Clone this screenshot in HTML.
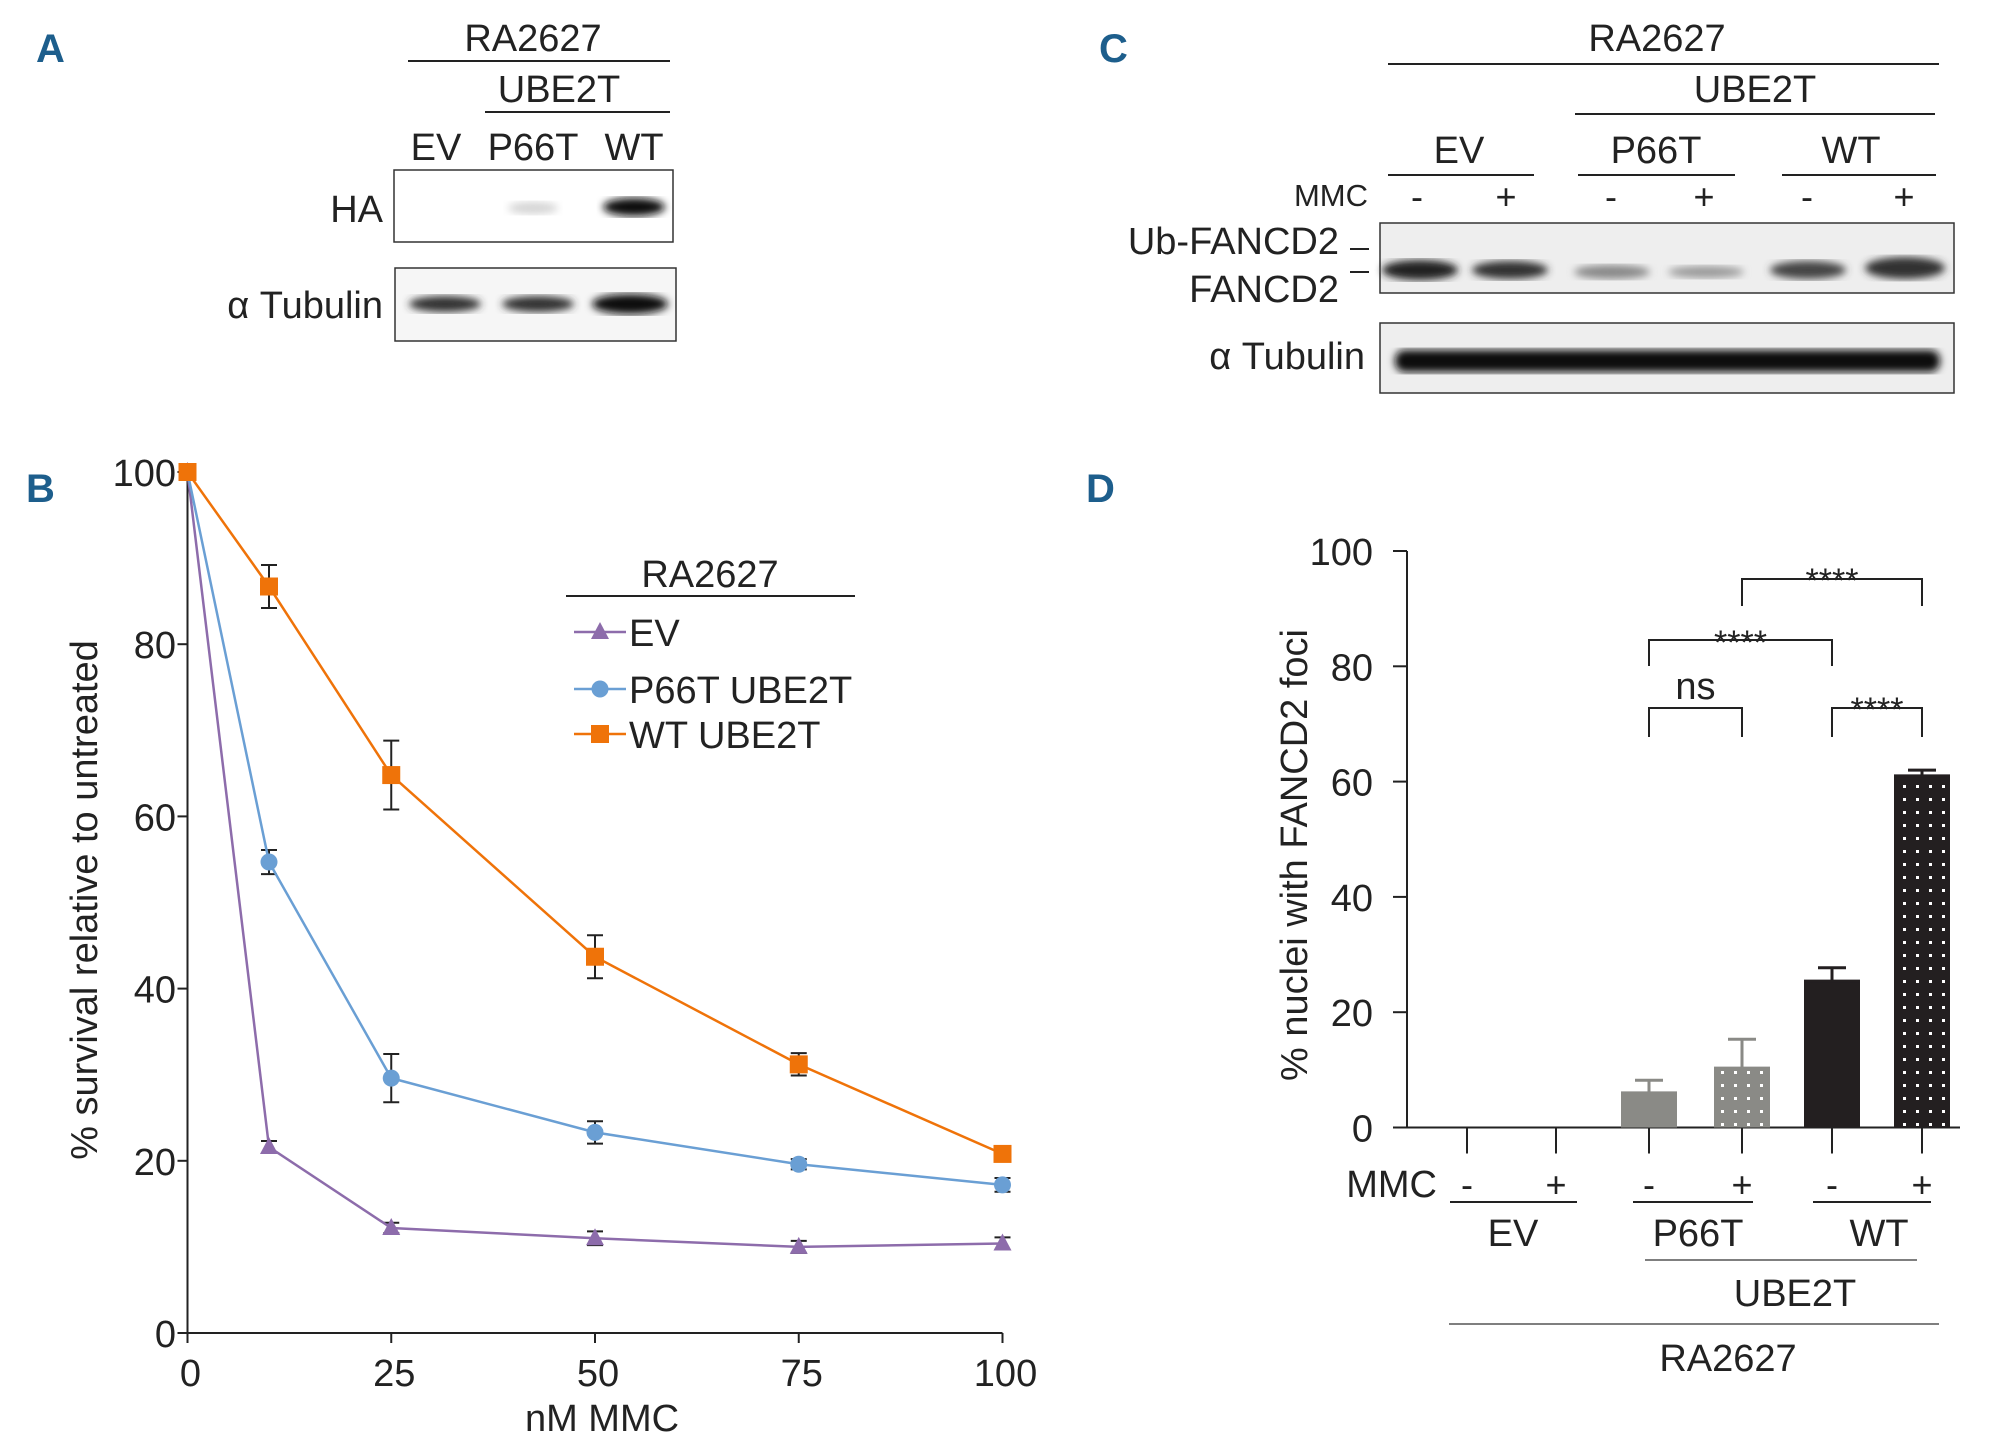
<!DOCTYPE html>
<html><head><meta charset="utf-8"><style>
html,body{margin:0;padding:0;background:#fff}
svg{display:block;font-family:"Liberation Sans",Arial,sans-serif}
.pl{font-family:"Liberation Sans Narrow","Liberation Sans",sans-serif;font-weight:bold;fill:#1d5e8c;font-size:40px}
</style></head><body>
<svg id="fig" width="2000" height="1449" viewBox="0 0 2000 1449" xmlns="http://www.w3.org/2000/svg">
<defs>
<pattern id="dotsW" width="13" height="13" patternUnits="userSpaceOnUse"><rect width="13" height="13" fill="#231f20"/><rect x="5" y="5" width="3" height="3" fill="#fff"/></pattern>
<pattern id="dotsG" width="13" height="13" patternUnits="userSpaceOnUse"><rect width="13" height="13" fill="#8a8a86"/><rect x="5" y="5" width="3" height="3" fill="#fff"/></pattern>
<filter id="blur"><feGaussianBlur stdDeviation="4"/></filter>
</defs>
<g font-size="38" fill="#222">
<text class="pl" x="36" y="62">A</text>
<text x="533" y="51" text-anchor="middle">RA2627</text>
<line x1="408" y1="61" x2="670" y2="61" stroke="#222" stroke-width="2"/>
<text x="559" y="102" text-anchor="middle">UBE2T</text>
<line x1="485" y1="112" x2="670" y2="112" stroke="#222" stroke-width="2"/>
<text x="436" y="160" text-anchor="middle">EV</text>
<text x="533" y="160" text-anchor="middle">P66T</text>
<text x="634" y="160" text-anchor="middle">WT</text>
<text x="383" y="222" text-anchor="end">HA</text>
<rect x="394" y="170" width="279" height="72" fill="#fff" stroke="#333" stroke-width="1.5"/>
<ellipse cx="533" cy="208" rx="25" ry="6" fill="#aaa" opacity="0.5" filter="url(#blur)"/>
<ellipse cx="634" cy="207" rx="31" ry="9" fill="#111" filter="url(#blur)"/>
<text x="383" y="318" text-anchor="end">α Tubulin</text>
<rect x="395" y="268" width="281" height="73" fill="#f6f6f6" stroke="#333" stroke-width="1.5"/>
<ellipse cx="445" cy="304" rx="36" ry="8" fill="#333" filter="url(#blur)"/>
<ellipse cx="538" cy="304" rx="36" ry="8" fill="#333" filter="url(#blur)"/>
<ellipse cx="630" cy="304" rx="38" ry="10" fill="#111" filter="url(#blur)"/>
</g>
<g font-size="38" fill="#222">
<text class="pl" x="1099" y="62">C</text>
<text x="1657" y="51" text-anchor="middle">RA2627</text>
<line x1="1388" y1="64" x2="1939" y2="64" stroke="#222" stroke-width="2"/>
<text x="1755" y="102" text-anchor="middle">UBE2T</text>
<line x1="1575" y1="114" x2="1935" y2="114" stroke="#222" stroke-width="2"/>
<text x="1459" y="163" text-anchor="middle">EV</text>
<text x="1656" y="163" text-anchor="middle">P66T</text>
<text x="1851" y="163" text-anchor="middle">WT</text>
<line x1="1388" y1="175" x2="1534" y2="175" stroke="#222" stroke-width="2"/>
<line x1="1578" y1="175" x2="1735" y2="175" stroke="#222" stroke-width="2"/>
<line x1="1782" y1="175" x2="1936" y2="175" stroke="#222" stroke-width="2"/>
<text x="1368" y="206" text-anchor="end" font-size="31">MMC</text>
<g font-size="36" text-anchor="middle">
<text x="1417" y="209">-</text><text x="1506" y="209">+</text>
<text x="1611" y="209">-</text><text x="1704" y="209">+</text>
<text x="1807" y="209">-</text><text x="1904" y="209">+</text>
</g>
<text x="1339" y="254" text-anchor="end">Ub-FANCD2</text>
<text x="1339" y="302" text-anchor="end">FANCD2</text>
<line x1="1350" y1="249" x2="1369" y2="249" stroke="#222" stroke-width="2"/>
<line x1="1350" y1="272" x2="1369" y2="272" stroke="#222" stroke-width="2"/>
<rect x="1380" y="223" width="574" height="70" fill="#eee" stroke="#333" stroke-width="1.5"/>
<ellipse cx="1420" cy="270" rx="38" ry="10" fill="#222" filter="url(#blur)"/>
<ellipse cx="1510" cy="270" rx="38" ry="9" fill="#333" filter="url(#blur)"/>
<ellipse cx="1612" cy="272" rx="38" ry="7" fill="#888" filter="url(#blur)"/>
<ellipse cx="1706" cy="272" rx="38" ry="6" fill="#999" filter="url(#blur)"/>
<ellipse cx="1808" cy="270" rx="38" ry="9" fill="#444" filter="url(#blur)"/>
<ellipse cx="1905" cy="268" rx="40" ry="11" fill="#333" filter="url(#blur)"/>
<text x="1365" y="369" text-anchor="end">α Tubulin</text>
<rect x="1380" y="323" width="574" height="70" fill="#eee" stroke="#333" stroke-width="1.5"/>
<rect x="1395" y="350" width="545" height="22" rx="10" fill="#111" filter="url(#blur)"/>
</g>
<text class="pl" x="26" y="502">B</text>
<text class="pl" x="1086" y="502">D</text>
<g id="chartB"></g>
<g id="chartD"></g>
</svg>
<script>
// ---- Panel B data ----
const doses = [0, 10, 25, 50, 75, 100];
const evVals = [100, 21.6, 12.2, 11.0, 10.0, 10.4];
const evErr = [0, 0.7, 0.6, 0.8, 0.7, 0.7];
const p66tVals = [100, 54.7, 29.6, 23.3, 19.6, 17.2];
const p66tErr = [0, 1.4, 2.8, 1.3, 0.6, 0.8];
const wtVals = [100, 86.7, 64.8, 43.7, 31.2, 20.8];
const wtErr = [0, 2.5, 4.0, 2.5, 1.3, 0.5];
const bYTicks = [0, 20, 40, 60, 80, 100];
const bXTicks = [0, 25, 50, 75, 100];
// ---- Panel D data ----
const dGroups = ['EV-', 'EV+', 'P66T-', 'P66T+', 'WT-', 'WT+'];
const dVals = [0, 0, 6.0, 10.3, 25.4, 61.0];
const dErr = [0, 0, 2.2, 5.0, 2.3, 1.0];
const dYTicks = [0, 20, 40, 60, 80, 100];

const NS = 'http://www.w3.org/2000/svg';
function mk(parent, tag, attrs, text) {
  const e = document.createElementNS(NS, tag);
  for (const k in attrs) e.setAttribute(k, attrs[k]);
  if (text !== undefined) e.textContent = text;
  parent.appendChild(e);
  return e;
}
const FS = 38;
const gB = document.getElementById('chartB');
const bx = v => 187.5 + v * 8.15;
const by = v => 1333 - v * 8.61;
let ax = mk(gB, 'path', {d: `M${bx(0)},${by(100)} V${by(0)} H${bx(100)}`, fill: 'none', stroke: '#222', 'stroke-width': 2});


bYTicks.forEach(t => {
  mk(gB, 'line', {x1: bx(0) - 10, x2: bx(0), y1: by(t), y2: by(t), stroke: '#222', 'stroke-width': 2});
  const l = mk(gB, 'text', {x: 176, y: by(t) + 14, 'text-anchor': 'end', 'font-size': FS, fill: '#222'}, t);
  
  
});
bXTicks.forEach(t => {
  mk(gB, 'line', {x1: bx(t), x2: bx(t), y1: by(0), y2: by(0) + 10, stroke: '#222', 'stroke-width': 2});
  const l = mk(gB, 'text', {x: bx(t) + 3, y: 1386, 'text-anchor': 'middle', 'font-size': FS, fill: '#222'}, t);
  
  
});
let xt = mk(gB, 'text', {x: 602, y: 1431, 'text-anchor': 'middle', 'font-size': FS, fill: '#222'}, 'nM MMC');


let yt = mk(gB, 'text', {x: 0, y: 0, transform: 'translate(97,900) rotate(-90)', 'text-anchor': 'middle', 'font-size': FS, fill: '#222'}, '% survival relative to untreated');


function marker(g, type, x, y, color) {
  if (type === 'sq') return mk(g, 'rect', {x: x - 9, y: y - 9, width: 18, height: 18, fill: color});
  if (type === 'c') return mk(g, 'circle', {cx: x, cy: y, r: 8.5, fill: color});
  return mk(g, 'path', {d: `M${x},${y - 10} L${x + 9},${y + 7} L${x - 9},${y + 7}Z`, fill: color});
}
const series = [
  {name: 'ev', vals: evVals, err: evErr, color: '#8d6cab', m: 't'},
  {name: 'p66t', vals: p66tVals, err: p66tErr, color: '#6a9fd4', m: 'c'},
  {name: 'wt', vals: wtVals, err: wtErr, color: '#ef7309', m: 'sq'}
];
series.forEach(s => {
  const g = mk(gB, 'g', {});
  
  
  s.vals.forEach((v, i) => {
    if (s.err[i] > 0) {
      const x = bx(doses[i]), y1 = by(v + s.err[i]), y2 = by(v - s.err[i]);
      mk(g, 'path', {d: `M${x - 8},${y1}H${x + 8}M${x},${y1}V${y2}M${x - 8},${y2}H${x + 8}`, stroke: '#222', 'stroke-width': 2, fill: 'none'});
    }
  });
  mk(g, 'polyline', {points: s.vals.map((v, i) => bx(doses[i]) + ',' + by(v)).join(' '), fill: 'none', stroke: s.color, 'stroke-width': 2.5});
  s.vals.forEach((v, i) => {
    const p = marker(g, s.m, bx(doses[i]), by(v), s.color);
    
    
  });
});
const lg = mk(gB, 'g', {'font-size': FS, fill: '#222'});


mk(lg, 'text', {x: 710, y: 587, 'text-anchor': 'middle'}, 'RA2627');
mk(lg, 'line', {x1: 566, x2: 855, y1: 596, y2: 596, stroke: '#222', 'stroke-width': 2});
const legLabels = ['EV', 'P66T UBE2T', 'WT UBE2T'];
const legY = [632, 689, 734];
series.forEach((s, i) => {
  const e = mk(lg, 'g', {});
  
  
  mk(e, 'line', {x1: 574, x2: 626, y1: legY[i], y2: legY[i], stroke: s.color, 'stroke-width': 2.5});
  marker(e, s.m, 600, legY[i], s.color);
  mk(e, 'text', {x: 629, y: legY[i] + 14}, legLabels[i]);
});
const gD = document.getElementById('chartD');
const dx0 = 1407, dxEnd = 1960;
const dy = v => 1127.5 - v * 5.765;
const centers = [1467, 1556, 1649, 1742, 1832, 1922];
const fills = ['#fff', '#fff', '#8a8a86', 'url(#dotsG)', '#231f20', 'url(#dotsW)'];
const errCol = ['#222', '#222', '#8a8a86', '#8a8a86', '#231f20', '#231f20'];
let axd = mk(gD, 'path', {d: `M${dx0},${dy(100)} V${dy(0)} H${dxEnd}`, fill: 'none', stroke: '#222', 'stroke-width': 2});


dYTicks.forEach(t => {
  mk(gD, 'line', {x1: dx0 - 14, x2: dx0, y1: dy(t), y2: dy(t), stroke: '#222', 'stroke-width': 2});
  const l = mk(gD, 'text', {x: 1373, y: dy(t) + 14, 'text-anchor': 'end', 'font-size': FS, fill: '#222'}, t);
  
  
});
let ytd = mk(gD, 'text', {x: 0, y: 0, transform: 'translate(1307,855) rotate(-90)', 'text-anchor': 'middle', 'font-size': FS, fill: '#222'}, '% nuclei with FANCD2 foci');


dGroups.forEach((gname, i) => {
  const c = centers[i];
  mk(gD, 'line', {x1: c, x2: c, y1: dy(0), y2: dy(0) + 26, stroke: '#222', 'stroke-width': 2});
  if (dVals[i] > 0) {
    const b = mk(gD, 'rect', {x: c - 28, y: dy(dVals[i]), width: 56, height: dy(0) - dy(dVals[i]), fill: fills[i]});
    
    
    mk(gD, 'path', {d: `M${c - 28},${dy(dVals[i])}H${c + 28}M${c},${dy(dVals[i])}V${dy(dVals[i] + dErr[i])}M${c - 14},${dy(dVals[i] + dErr[i])}H${c + 14}`, stroke: errCol[i], 'stroke-width': 3, fill: 'none'});
  }
});
const brackets = [
  {a: 3, b: 5, y: 579, d: 27, lab: '****', ly: 592, fs: 34},
  {a: 2, b: 4, y: 640, d: 26, lab: '****', ly: 654, fs: 34},
  {a: 2, b: 3, y: 708, d: 29, lab: 'ns', ly: 699, fs: 38},
  {a: 4, b: 5, y: 708, d: 29, lab: '****', ly: 721, fs: 34}
];
brackets.forEach(k => {
  const g = mk(gD, 'g', {});
  
  
  const x1 = centers[k.a], x2 = centers[k.b];
  mk(g, 'path', {d: `M${x1},${k.y + k.d}V${k.y}H${x2}V${k.y + k.d}`, fill: 'none', stroke: '#222', 'stroke-width': 2});
  mk(g, 'text', {x: (x1 + x2) / 2, y: k.ly, 'text-anchor': 'middle', 'font-size': k.fs, fill: '#222'}, k.lab);
});
const lab = mk(gD, 'g', {'font-size': FS, fill: '#222'});


mk(lab, 'text', {x: 1437, y: 1197, 'text-anchor': 'end'}, 'MMC');
const signs = ['-', '+', '-', '+', '-', '+'];
signs.forEach((s, i) => mk(lab, 'text', {x: centers[i], y: 1197, 'text-anchor': 'middle', 'font-size': 36}, s));
[[1450, 1577], [1633, 1753], [1813, 1931]].forEach(p => mk(lab, 'line', {x1: p[0], x2: p[1], y1: 1202, y2: 1202, stroke: '#222', 'stroke-width': 2}));
mk(lab, 'text', {x: 1513, y: 1246, 'text-anchor': 'middle'}, 'EV');
mk(lab, 'text', {x: 1698, y: 1246, 'text-anchor': 'middle'}, 'P66T');
mk(lab, 'text', {x: 1879, y: 1246, 'text-anchor': 'middle'}, 'WT');
mk(lab, 'line', {x1: 1645, x2: 1917, y1: 1260, y2: 1260, stroke: '#555', 'stroke-width': 1.5});
mk(lab, 'text', {x: 1795, y: 1306, 'text-anchor': 'middle'}, 'UBE2T');
mk(lab, 'line', {x1: 1449, x2: 1939, y1: 1324, y2: 1324, stroke: '#555', 'stroke-width': 1.5});
mk(lab, 'text', {x: 1728, y: 1371, 'text-anchor': 'middle'}, 'RA2627');
</script>
</body></html>
